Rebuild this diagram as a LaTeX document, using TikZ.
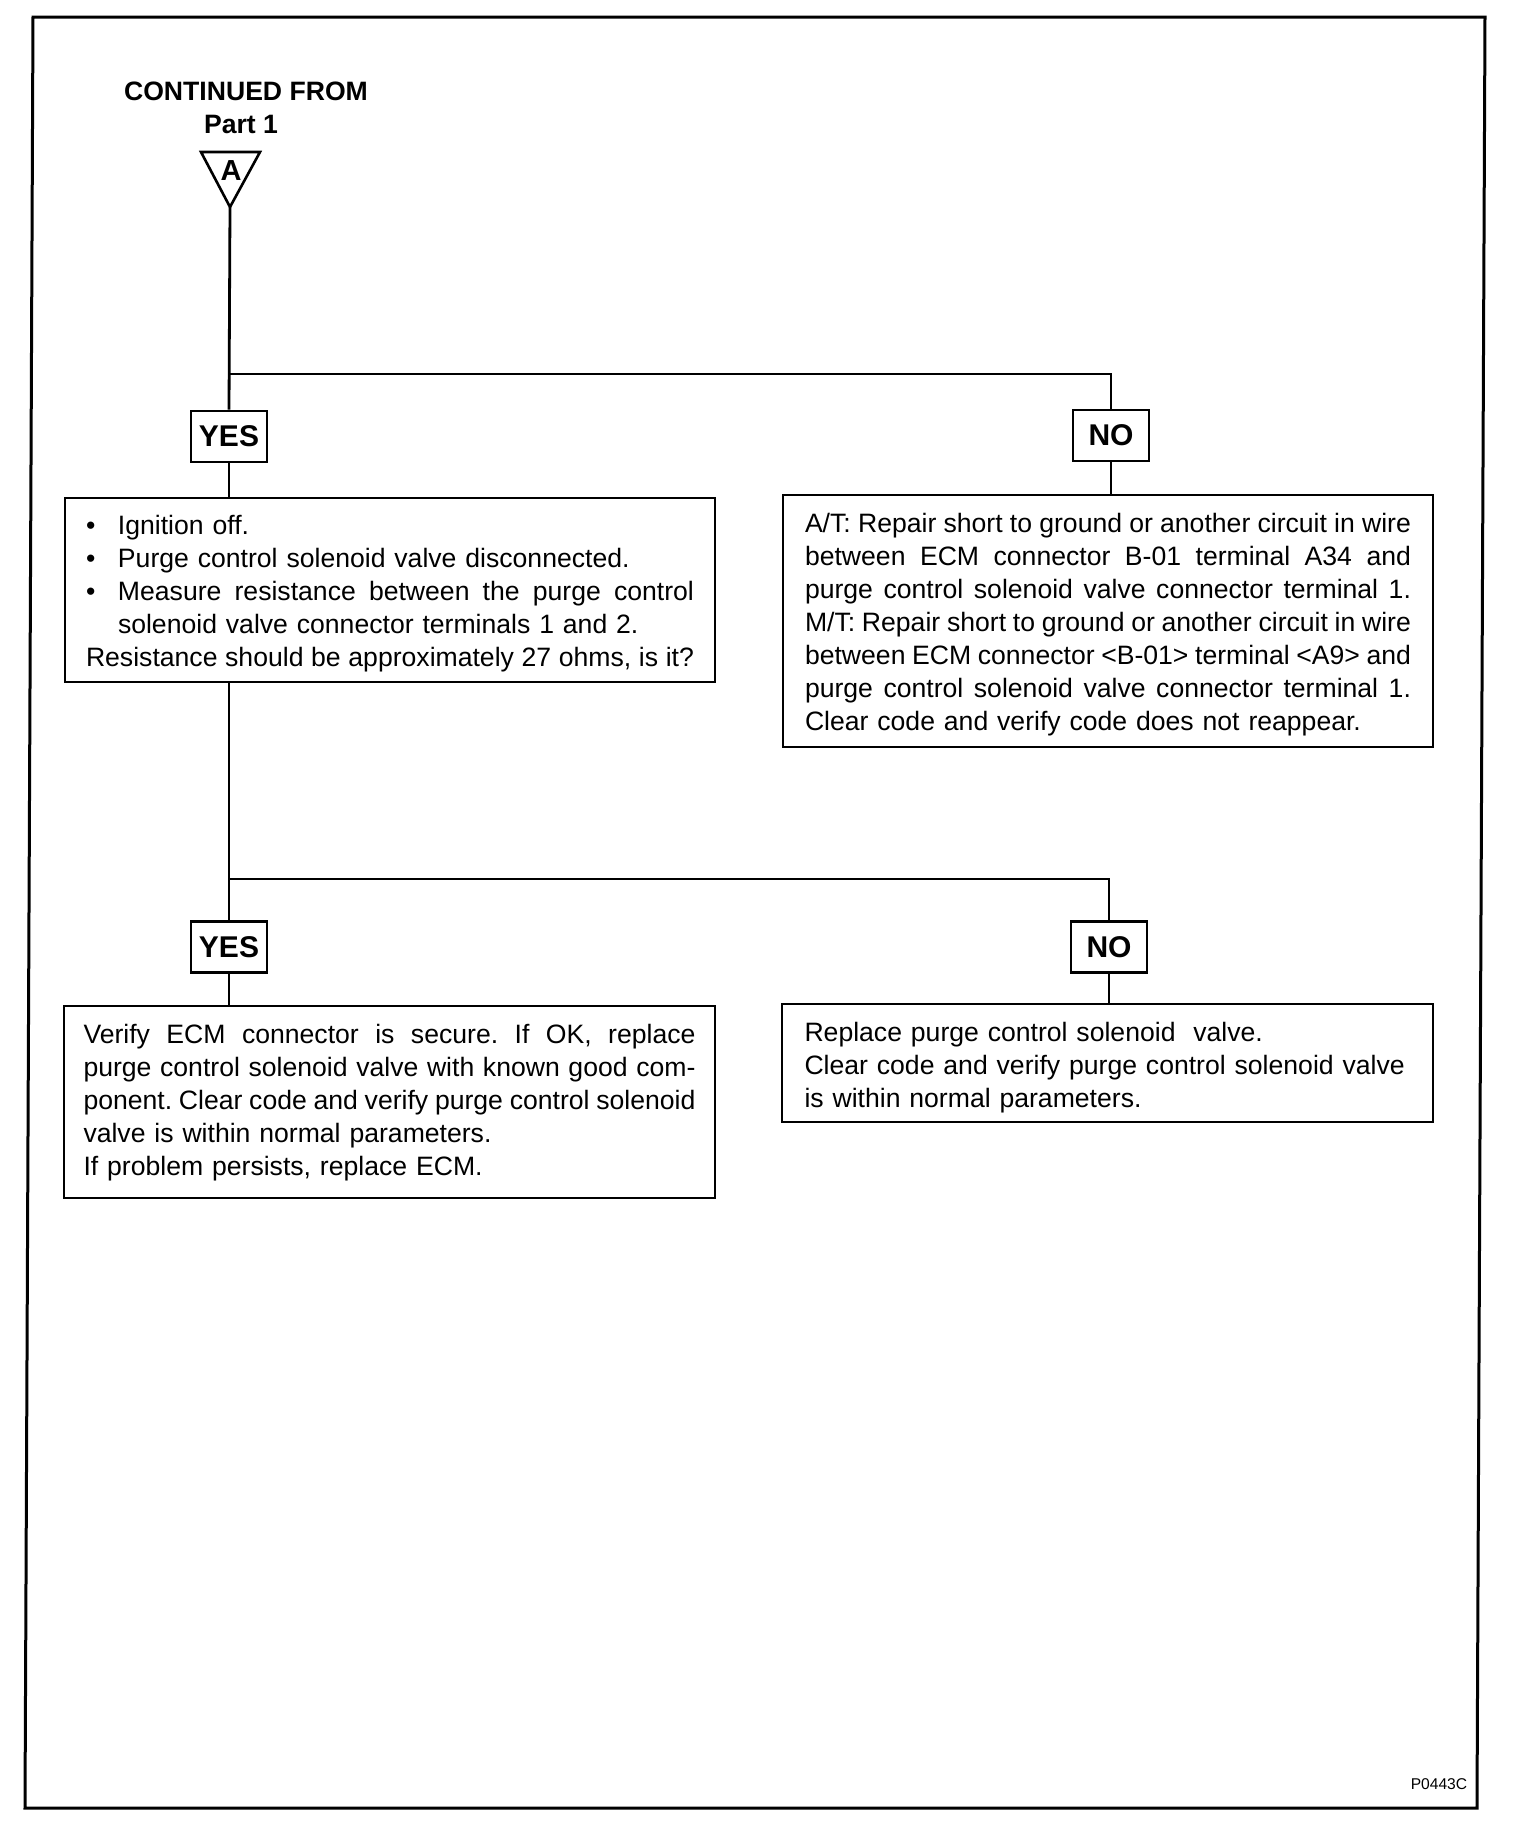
\documentclass[tikz,border=0pt]{standalone}
\usepackage{fontspec}
\setmainfont{Liberation Sans}
\makeatletter
\newcommand\jline[2]{\leavevmode\hbox to #1{\jl@words#2 \@nil}}
\def\jl@words#1 #2\@nil{#1\ifx\@nil#2\@nil\else\hskip .2em plus 1fil\relax\jl@words#2\@nil\fi}
\makeatother
\begin{document}
\frenchspacing
\begin{tikzpicture}[x=0.5pt,y=-0.5pt,
  conn/.style={line width=1.4pt},
  tbox/.style={draw, line width=1.3pt, inner sep=0pt, font=\fontsize{13.3}{16.5}\selectfont, align=left},
  yn/.style={draw, line width=1.3pt, minimum width=38pt, minimum height=25.5pt, inner sep=0pt, font=\bfseries\fontsize{15}{18}\selectfont},
  head/.style={font=\bfseries\fontsize{13.3}{16}\selectfont, inner sep=0pt}]
\useasboundingbox (0,0) rectangle (1520,1844);
\draw[line width=1.5pt, line join=miter] (33,17) -- (1485,17) -- (1477,1808) -- (25,1808) -- cycle;
% heading
\node[head] (cont) at (246,91.5) {CONTINUED FROM};
\node[head] (part) at (241,124) {Part 1};
\draw[line width=1.3pt, line join=miter] (201,152) -- (260,152) -- (230,207) -- cycle;
\coordinate (apex) at (230,207);
\node[font=\bfseries\fontsize{14.5}{16}\selectfont, inner sep=0pt] (A) at (231,171) {A};
% first decision
\node[yn] (yes1) at (229,436.5) {YES};
\node[yn] (no1) at (1111,435.5) {NO};
\node[tbox, minimum width=325pt, minimum height=92pt, text width=304pt] (box1) at (390,590) {%
\rule{0pt}{13pt}\makebox[16pt][l]{\textbullet}Ignition off.\\
\makebox[16pt][l]{\textbullet}Purge control solenoid valve disconnected.\\
\makebox[16pt][l]{\textbullet}\jline{288pt}{Measure resistance between the purge control}\\
\hspace*{16pt}solenoid valve connector terminals 1 and 2.\\
\jline{304pt}{Resistance should be approximately 27 ohms, is it?}};
\node[tbox, minimum width=325pt, minimum height=126pt, text width=303pt] (box2) at (1108,621) {%
\rule{0pt}{13pt}\jline{303pt}{A/T: Repair short to ground or another circuit in wire}\\
\jline{303pt}{between ECM connector B-01 terminal A34 and}\\
\jline{303pt}{purge control solenoid valve connector terminal 1.}\\
\jline{303pt}{M/T: Repair short to ground or another circuit in wire}\\
\jline{303pt}{between ECM connector <B-01> terminal <A9> and}\\
\jline{303pt}{purge control solenoid valve connector terminal 1.}\\
Clear code and verify code does not reappear.};
% second decision
\node[yn] (yes2) at (229,947) {YES};
\node[yn] (no2) at (1109,947) {NO};
\node[tbox, minimum width=325.5pt, minimum height=96pt, text width=306pt] (box3) at (389.5,1102) {%
\rule{0pt}{10.5pt}\jline{306pt}{Verify ECM connector is secure. If OK, replace}\\
\jline{306pt}{purge control solenoid valve with known good com-}\\
\jline{306pt}{ponent. Clear code and verify purge control solenoid}\\
valve is within normal parameters.\\
If problem persists, replace ECM.};
\node[tbox, minimum width=325.5pt, minimum height=59pt, text width=303pt] (box4) at (1107.5,1063) {%
\rule{0pt}{14.5pt}Replace purge control solenoid\ \ valve.\\
Clear code and verify purge control solenoid valve\\
is within normal parameters.};
% connectors
\coordinate (j1) at (229,374);
\coordinate (j2) at (229,879);
\draw[conn] (apex) -- (yes1.north);
\draw[conn] (j1) -| (no1.north);
\draw[conn] (yes1.south) -- (box1.north -| yes1.south);
\draw[conn] (no1.south) -- (box2.north -| no1.south);
\draw[conn] (box1.south -| yes2.north) -- (yes2.north);
\draw[conn] (j2) -| (no2.north);
\draw[conn] (yes2.south) -- (box3.north -| yes2.south);
\draw[conn] (no2.south) -- (box4.north -| no2.south);
% figure code
\node[font=\fontsize{7.8}{9}\selectfont, inner sep=0pt] (code) at (1439,1784) {P0443C};
\end{tikzpicture}
\end{document}
